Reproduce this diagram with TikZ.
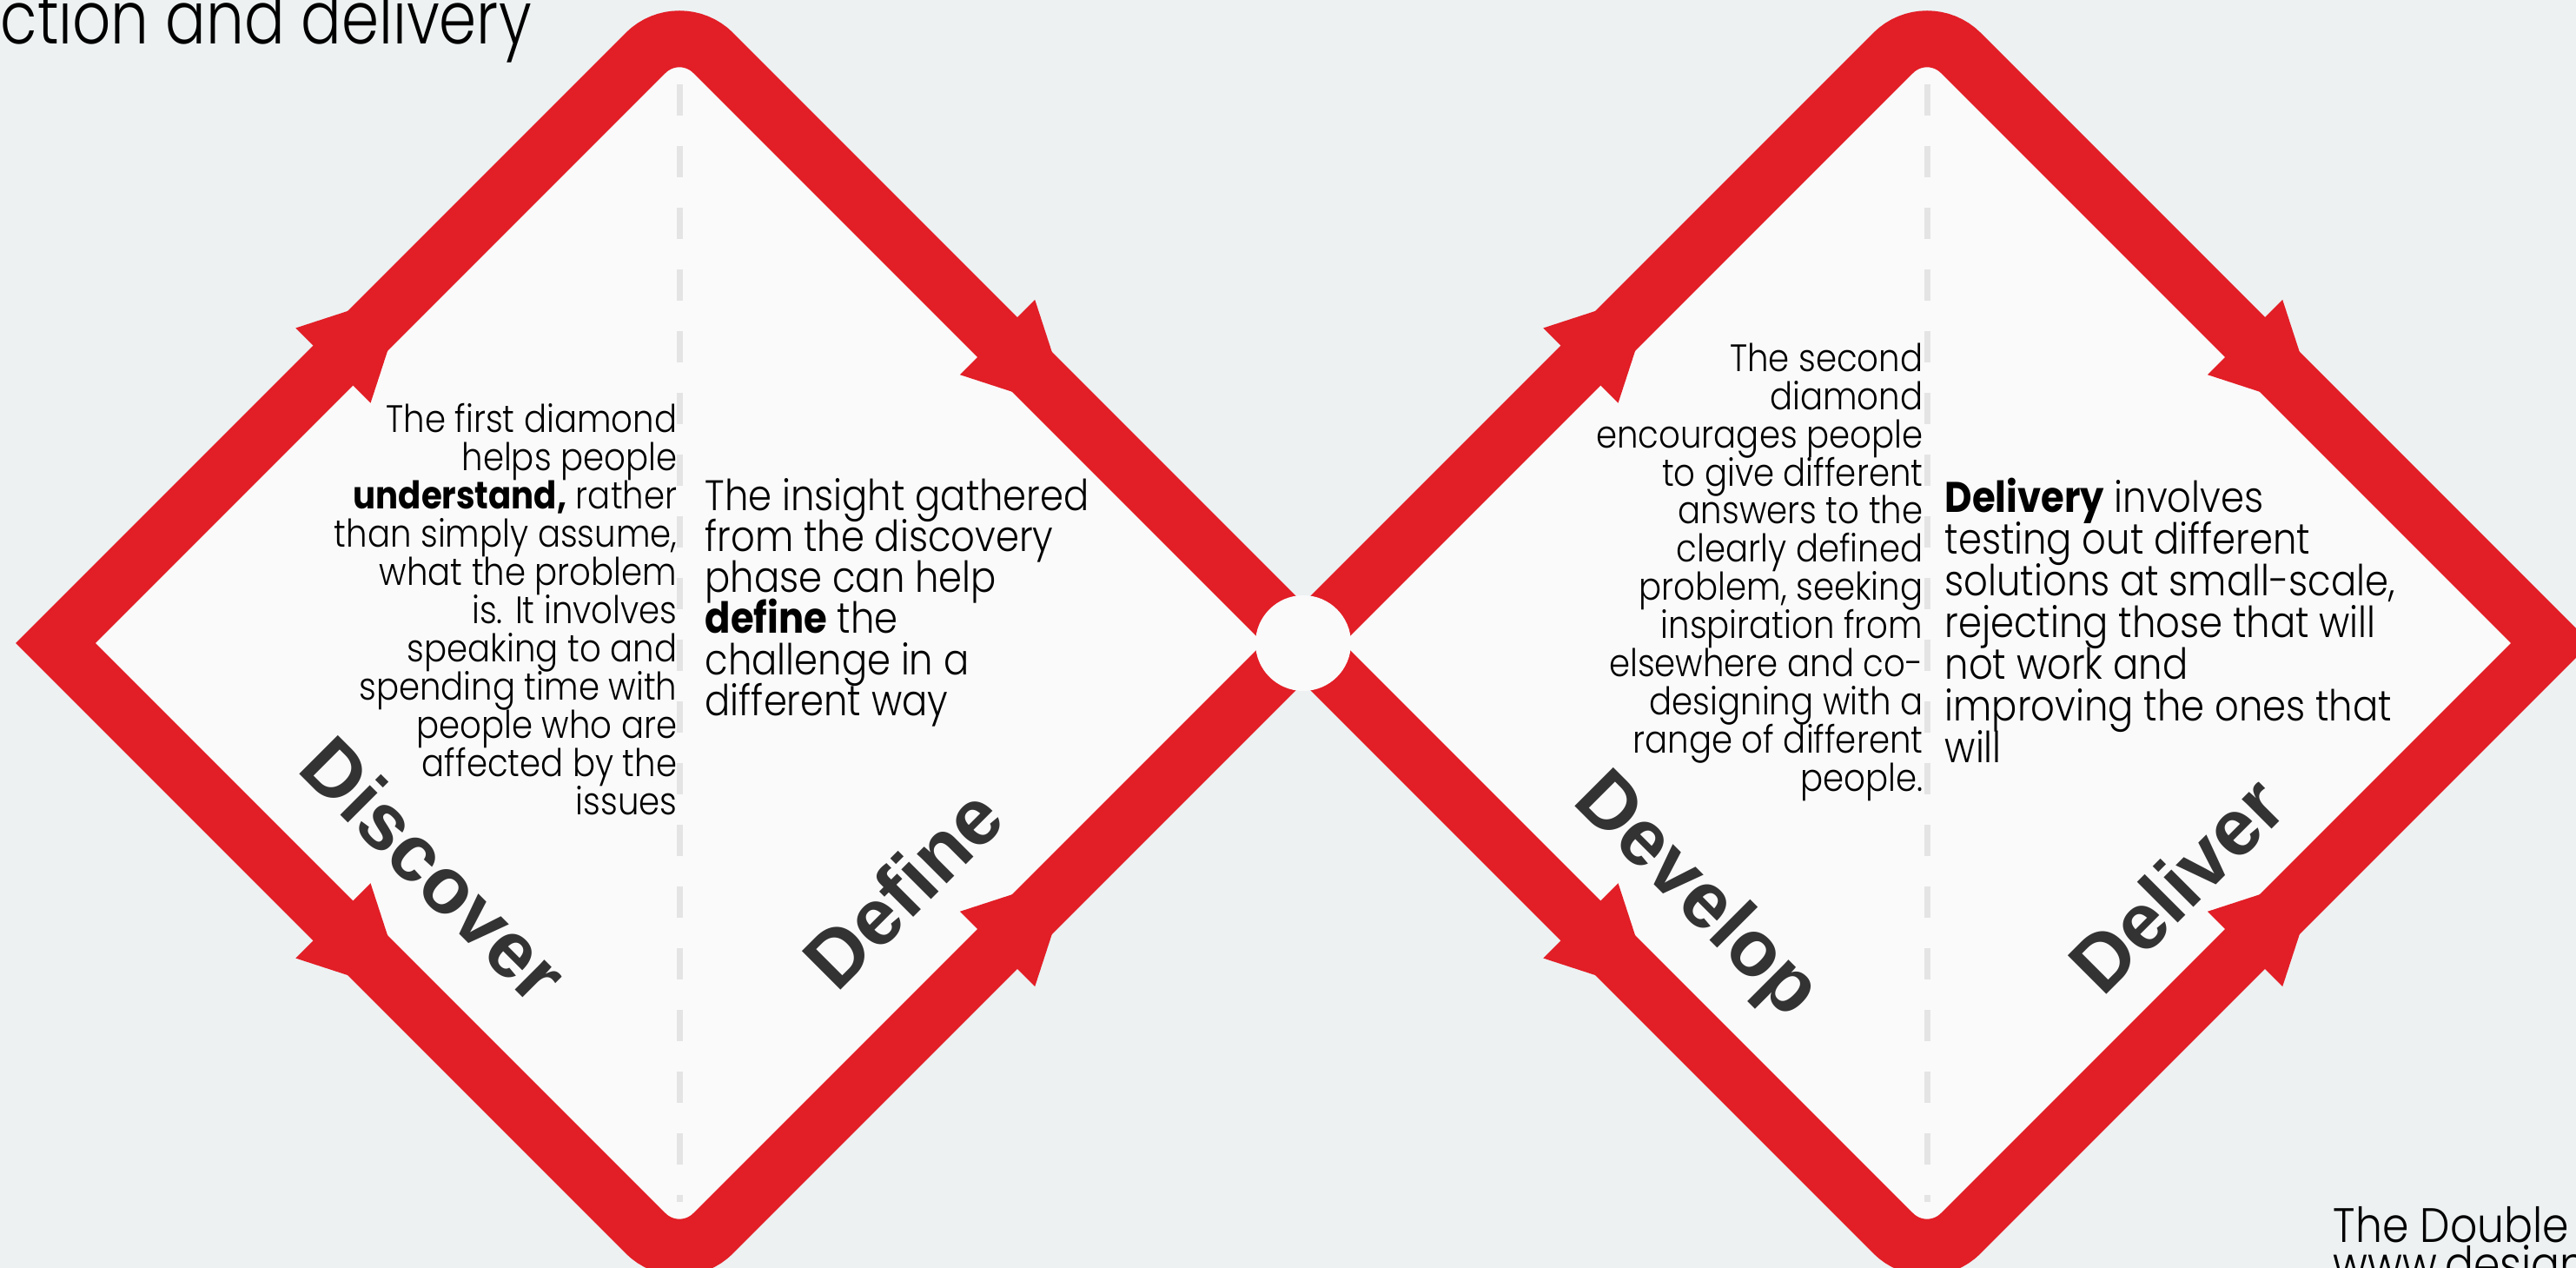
\documentclass[tikz,border=0pt]{standalone}
\usepackage{fontspec}
\setmainfont{Poppins}[UprightFont=* Light, BoldFont=* Bold, FakeStretch=0.88]
\newfontfamily\titlefont{Poppins}[UprightFont=* Light, FakeStretch=0.82]
\newfontfamily\labelfont{Liberation Sans}
\usetikzlibrary{calc}

\definecolor{bggray}{HTML}{EDF1F2}
\definecolor{ddred}{HTML}{E21E26}
\definecolor{paper}{HTML}{FAFAFA}
\definecolor{dashgray}{HTML}{E4E4E4}
\definecolor{labelgray}{HTML}{333333}

\begin{document}
\begin{tikzpicture}[
    band/.style={draw=ddred, line width=6.5mm, fill=paper, line join=miter},
    midline/.style={draw=dashgray, line width=0.7mm, dash pattern=on 3.6mm off 3.5mm},
    lefttext/.style={align=right, inner sep=0pt, anchor=north east, font={\fontsize{12.5pt}{12.5pt}\selectfont\lineskiplimit=-20pt}},
    righttext/.style={align=left, inner sep=0pt, anchor=north west, font={\fontsize{14pt}{13.4pt}\selectfont\lineskiplimit=-20pt}},
    phase/.style={inner sep=0pt, text=labelgray, font=\labelfont\bfseries\fontsize{26pt}{26pt}\selectfont},
    arrowhd/.pic={\fill[ddred] (0,0) -- (-1.2,0.61) -- (-1.2,-0.61) -- cycle;}
]
    \clip (0,0) rectangle (29.65,-14.59);
    \fill[bggray] (0,0) rectangle (29.65,-14.59);

    % corners of the two diamonds
    \foreach \i/\cx in {1/7.82, 2/22.18} {
        \coordinate (L\i) at (\cx-7.18,-7.40);
        \coordinate (T\i) at (\cx,-0.22);
        \coordinate (R\i) at (\cx+7.18,-7.40);
        \coordinate (B\i) at (\cx,-14.58);
    }

    \foreach \i in {1,2} {
        \path[band] (R\i) -- ($(T\i)+(0.389,-0.389)$) arc[start angle=45, end angle=135, radius=0.55]
            -- (L\i) -- ($(B\i)+(-0.389,0.389)$) arc[start angle=225, end angle=315, radius=0.55] -- cycle;
        \draw[midline] ($(T\i)+(0,-0.75)$) -- ($(B\i)+(0,0.75)$);
        \pic[rotate=45] at ($(L\i)!0.563!(T\i)$) {arrowhd};
        \pic[rotate=-45] at ($(L\i)!0.563!(B\i)$) {arrowhd};
        \pic[rotate=-45] at ($(T\i)!0.628!(R\i)$) {arrowhd};
        \pic[rotate=45] at ($(B\i)!0.628!(R\i)$) {arrowhd};
    }
    \fill[paper] (R1) circle (0.55);

    \node[lefttext] (discovertext) at (7.80,-4.64) {The first diamond\\helps people\\\textbf{understand,} rather\\than simply assume,\\what the problem\\is. It involves\\speaking to and\\spending time with\\people who are\\affected by the\\issues};
    \node[righttext] (definetext) at (8.11,-5.50) {The insight gathered\\from the discovery\\phase can help\\\textbf{define} the\\challenge in a\\different way};
    \node[lefttext] (developtext) at (22.14,-3.94) {The second\\diamond\\encourages people\\to give different\\answers to the\\clearly defined\\problem, seeking\\inspiration from\\elsewhere and co-\\designing with a\\range of different\\people.};
    \node[righttext, font={\fontsize{14pt}{13.66pt}\selectfont\lineskiplimit=-20pt}] (delivertext) at (22.38,-5.49) {\textbf{Delivery} involves\\testing out different\\solutions at small-scale,\\rejecting those that will\\not work and\\improving the ones that\\will};

    \node[phase, rotate=-45] (discover) at (5.00,-10.00) {Discover};
    \node[phase, rotate=45] (define) at (10.39,-10.22) {Define};
    \node[phase, rotate=-45] (develop) at (19.51,-10.32) {Develop};
    \node[phase, rotate=45] (deliver) at (25.05,-10.18) {Deliver};

    \node[anchor=base west, inner sep=0pt, font=\titlefont\fontsize{24pt}{24pt}\selectfont] (title) at (0,-0.51) {ction and delivery};
    \node[anchor=base west, inner sep=0pt, align=left, font={\fontsize{15.8pt}{12.8pt}\selectfont\lineskiplimit=-20pt}] (source) at (26.85,-14.74) {The Double\\www.design};
\end{tikzpicture}
\end{document}
